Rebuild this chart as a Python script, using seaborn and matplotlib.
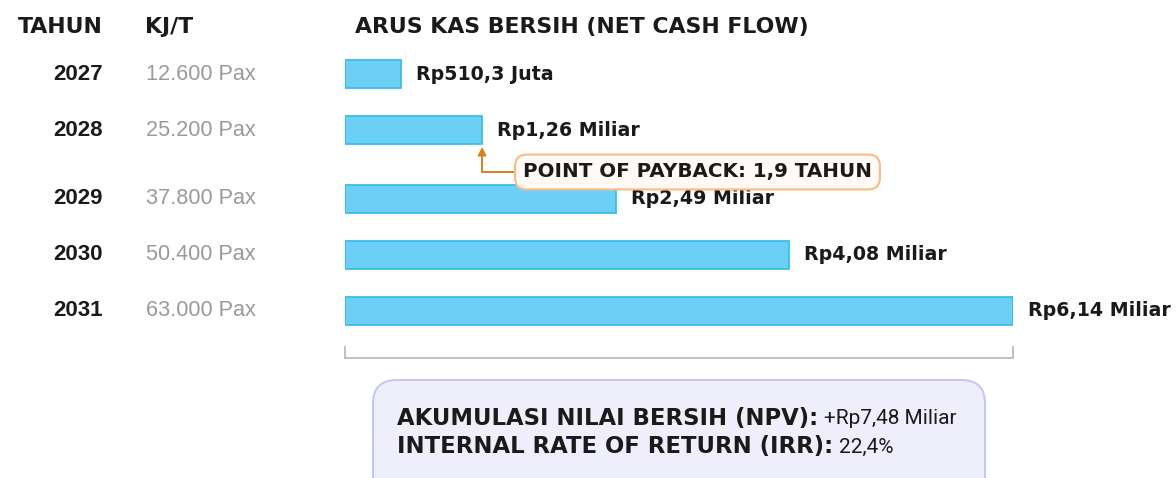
import matplotlib
matplotlib.use("Agg")
import matplotlib.pyplot as plt
import seaborn as sns
import numpy as np
from matplotlib.patches import FancyBboxPatch

# ---- data ----
years = ["2027", "2028", "2029", "2030", "2031"]
kjt_labels = ["12.600 Pax", "25.200 Pax", "37.800 Pax", "50.400 Pax", "63.000 Pax"]
cash_flow = [0.5103, 1.26, 2.49, 4.08, 6.14]  # in Miliar Rp
value_labels = ["Rp510,3 Juta", "Rp1,26 Miliar", "Rp2,49 Miliar", "Rp4,08 Miliar", "Rp6,14 Miliar"]
payback_text = "POINT OF PAYBACK: 1,9 TAHUN"
npv_label, npv_value = "AKUMULASI NILAI BERSIH (NPV):", "+Rp7,48 Miliar"
irr_label, irr_value = "INTERNAL RATE OF RETURN (IRR):", "22,4%"

# ---- layout (row positions, leaving room for callout after 2028) ----
row_pos = [0, 1, 2.232, 3.232, 4.232]

sns.set_theme(style="white")
plt.rcParams["font.family"] = ["DejaVu Sans"]

W, H = 1176, 478
fig = plt.figure(figsize=(W / 100, H / 100), dpi=100)
fx = lambda px: px / W
fy = lambda py: 1 - py / H

ax = fig.add_axes([fx(345), 0, fx(1013) - fx(345), 1])
sns.barplot(x=cash_flow, y=row_pos, orient="h", native_scale=True, width=0.5,
            color="#6CCFF5", edgecolor="#3BBDEC", linewidth=1.3, saturation=1, ax=ax)
ax.set_xlim(0, max(cash_flow))
ax.set_ylim(404 / 56, -74 / 56)
ax.set_facecolor("none")
for s in ["top", "left", "right"]:
    ax.spines[s].set_visible(False)
ax.spines["bottom"].set_position(("data", (358 - 74) / 56))
ax.spines["bottom"].set_color("#b5b5b5")
ax.spines["bottom"].set_linewidth(1.2)
ax.set_xticks([0, max(cash_flow)])
ax.tick_params(axis="x", direction="in", length=9, width=1.2, color="#b5b5b5",
               labelbottom=False, bottom=True)
ax.set_yticks([])
ax.set_xlabel("")
ax.set_ylabel("")

DARK = "#1a1a1a"

# value labels
for v, yp, lab in zip(cash_flow, row_pos, value_labels):
    ax.annotate(lab, xy=(v, yp), xytext=(11, 0), textcoords="offset points",
                ha="left", va="center", fontsize=13.7, fontweight="bold",
                color=DARK, annotation_clip=False)

# left columns
for yr, kj, yp in zip(years, kjt_labels, row_pos):
    ypx = 74 + yp * 56
    fig.text(fx(103), fy(ypx), yr, ha="right", va="center", fontsize=16,
             fontweight="bold", color=DARK, family=["Liberation Sans", "DejaVu Sans"])
    fig.text(fx(146), fy(ypx), kj, ha="left", va="center", fontsize=15.6,
             color="#9a9a9a", family=["Liberation Sans", "DejaVu Sans"])

# headers
hdr = dict(fontsize=15.8, fontweight="bold", color=DARK, va="center")
fig.text(fx(103), fy(27), "TAHUN", ha="right", **hdr)
fig.text(fx(145), fy(27), "KJ/T", ha="left", **hdr)
fig.text(fx(355), fy(27), "ARUS KAS BERSIH (NET CASH FLOW)", ha="left", **hdr)

# payback callout
ax.annotate(payback_text, xy=(cash_flow[1], row_pos[1] + 0.3),
            xytext=(fx(523), fy(172)), textcoords="figure fraction",
            ha="left", va="center", fontsize=14.3, fontweight="bold", color=DARK,
            bbox=dict(boxstyle="round,pad=0.4,rounding_size=0.6", fc="#FFFAF5",
                      ec="#F8BC84", lw=1.5),
            arrowprops=dict(arrowstyle="-|>", color="#D9801F", lw=1.4,
                            connectionstyle="angle,angleA=0,angleB=90,rad=0",
                            shrinkA=0, shrinkB=0, mutation_scale=12),
            annotation_clip=False)

# NPV box
box = FancyBboxPatch((fx(373), fy(520)), fx(985) - fx(373), fy(380) - fy(520),
                     boxstyle="round,pad=0,rounding_size=0.02",
                     transform=fig.transFigure, fc="#EFEFFB", ec="#C6C6F3", lw=1.5,
                     mutation_aspect=W / H, zorder=-1)
fig.patches.append(box)
boldbox = dict(ha="left", va="center", fontsize=16.4, fontweight="bold", color=DARK)
normbox = dict(ha="left", va="center", fontsize=15, color=DARK,
               family=["Roboto", "DejaVu Sans"])
t1 = fig.text(fx(397), fy(418), npv_label, **boldbox)
ax.annotate(npv_value, xy=(1, 0.5), xycoords=t1, xytext=(4, 0),
            textcoords="offset points", annotation_clip=False, **normbox)
t2 = fig.text(fx(397), fy(447), irr_label, **boldbox)
ax.annotate(irr_value, xy=(1, 0.5), xycoords=t2, xytext=(4, 0),
            textcoords="offset points", annotation_clip=False, **normbox)

fig.savefig("out.png", dpi=100)
